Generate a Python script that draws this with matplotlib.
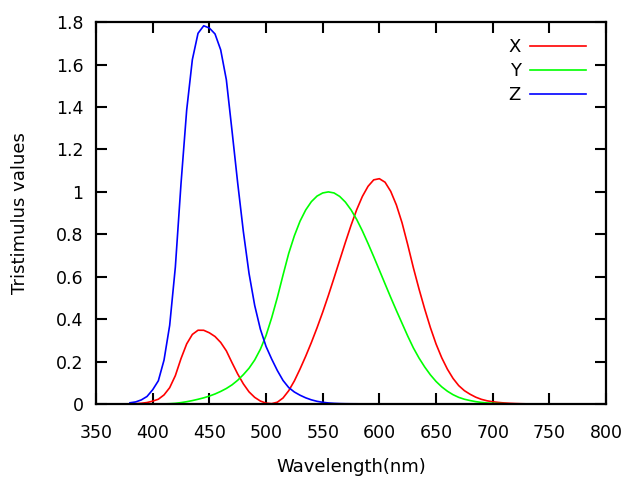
import matplotlib
matplotlib.use('Agg')
from matplotlib import pyplot as plt
from matplotlib.ticker import FormatStrFormatter, MultipleLocator
import numpy as np

# CIE 1931 2 degree colour matching functions, 5 nm steps
wl = np.arange(380, 785, 5)
xbar = [0.001368, 0.002236, 0.004243, 0.007650, 0.014310, 0.023190, 0.043510, 0.077630,
        0.134380, 0.214770, 0.283900, 0.328500, 0.348280, 0.348060, 0.336200, 0.318700,
        0.290800, 0.251100, 0.195360, 0.142100, 0.095640, 0.057950, 0.032010, 0.014700,
        0.004900, 0.002400, 0.009300, 0.029100, 0.063270, 0.109600, 0.165500, 0.225750,
        0.290400, 0.359700, 0.433450, 0.512050, 0.594500, 0.678400, 0.762100, 0.842500,
        0.916300, 0.978600, 1.026300, 1.056700, 1.062200, 1.045600, 1.002600, 0.938400,
        0.854450, 0.751400, 0.642400, 0.541900, 0.447900, 0.360800, 0.283500, 0.218700,
        0.164900, 0.121200, 0.087400, 0.063600, 0.046770, 0.032900, 0.022700, 0.015840,
        0.011359, 0.008111, 0.005790, 0.004109, 0.002899, 0.002049, 0.001440, 0.001000,
        0.000690, 0.000476, 0.000332, 0.000235, 0.000166, 0.000117, 0.000083, 0.000059,
        0.000042]
ybar = [0.000039, 0.000064, 0.000120, 0.000217, 0.000396, 0.000640, 0.001210, 0.002180,
        0.004000, 0.007300, 0.011600, 0.016840, 0.023000, 0.029800, 0.038000, 0.048000,
        0.060000, 0.073900, 0.090980, 0.112600, 0.139020, 0.169300, 0.208020, 0.258600,
        0.323000, 0.407300, 0.503000, 0.608200, 0.710000, 0.793200, 0.862000, 0.914850,
        0.954000, 0.980300, 0.994950, 1.000000, 0.995000, 0.978600, 0.952000, 0.915400,
        0.870000, 0.816300, 0.757000, 0.694900, 0.631000, 0.566800, 0.503000, 0.441200,
        0.381000, 0.321000, 0.265000, 0.217000, 0.175000, 0.138200, 0.107000, 0.081600,
        0.061000, 0.044580, 0.032000, 0.023200, 0.017000, 0.011920, 0.008210, 0.005723,
        0.004102, 0.002929, 0.002091, 0.001484, 0.001047, 0.000740, 0.000520, 0.000361,
        0.000249, 0.000172, 0.000120, 0.000085, 0.000060, 0.000042, 0.000030, 0.000021,
        0.000015]
zbar = [0.006450, 0.010550, 0.020050, 0.036210, 0.067850, 0.110200, 0.207400, 0.371300,
        0.645600, 1.039050, 1.385600, 1.622960, 1.747060, 1.782600, 1.772110, 1.744100,
        1.669200, 1.528100, 1.287640, 1.041900, 0.812950, 0.616200, 0.465180, 0.353300,
        0.272000, 0.212300, 0.158200, 0.111700, 0.078250, 0.057250, 0.042160, 0.029840,
        0.020300, 0.013400, 0.008750, 0.005750, 0.003900, 0.002750, 0.002100, 0.001800,
        0.001650, 0.001400, 0.001100, 0.001000, 0.000800, 0.000600, 0.000340, 0.000240,
        0.000190, 0.000100, 0.000050, 0.000030, 0.000020, 0.000010] + [0.0] * 27

plt.rcParams['font.family'] = ['DejaVu Sans']
plt.rcParams['font.size'] = 13

fig = plt.figure(figsize=(6.4, 4.8), dpi=100)
ax = fig.add_axes([0.15, 0.158, 0.797, 0.796])
ax.plot(wl, xbar, color='#ff0000', lw=1.2, label='X')
ax.plot(wl, ybar, color='#00ff00', lw=1.2, label='Y')
ax.plot(wl, zbar, color='#0000ff', lw=1.2, label='Z')

ax.set_xlim(350, 800)
ax.set_ylim(0, 1.8)
ax.xaxis.set_major_locator(MultipleLocator(50))
ax.yaxis.set_major_locator(MultipleLocator(0.2))
ax.yaxis.set_major_formatter(FormatStrFormatter('%g'))
ax.tick_params(direction='in', length=8, width=1.5, top=True, right=True, labelsize=12.5)
ax.tick_params(axis='x', pad=14)
ax.tick_params(axis='y', pad=9)
for s in ax.spines.values():
    s.set_linewidth(1.6)
ax.set_xlabel('Wavelength(nm)', labelpad=12)
ax.set_ylabel('Tristimulus values', labelpad=19)
ax.legend(loc='upper right', bbox_to_anchor=(0.974, 0.977), borderaxespad=0,
          markerfirst=False, frameon=False, handlelength=3.1,
          handletextpad=0.5, labelspacing=0.34)
plt.savefig('out.png', dpi=100)
